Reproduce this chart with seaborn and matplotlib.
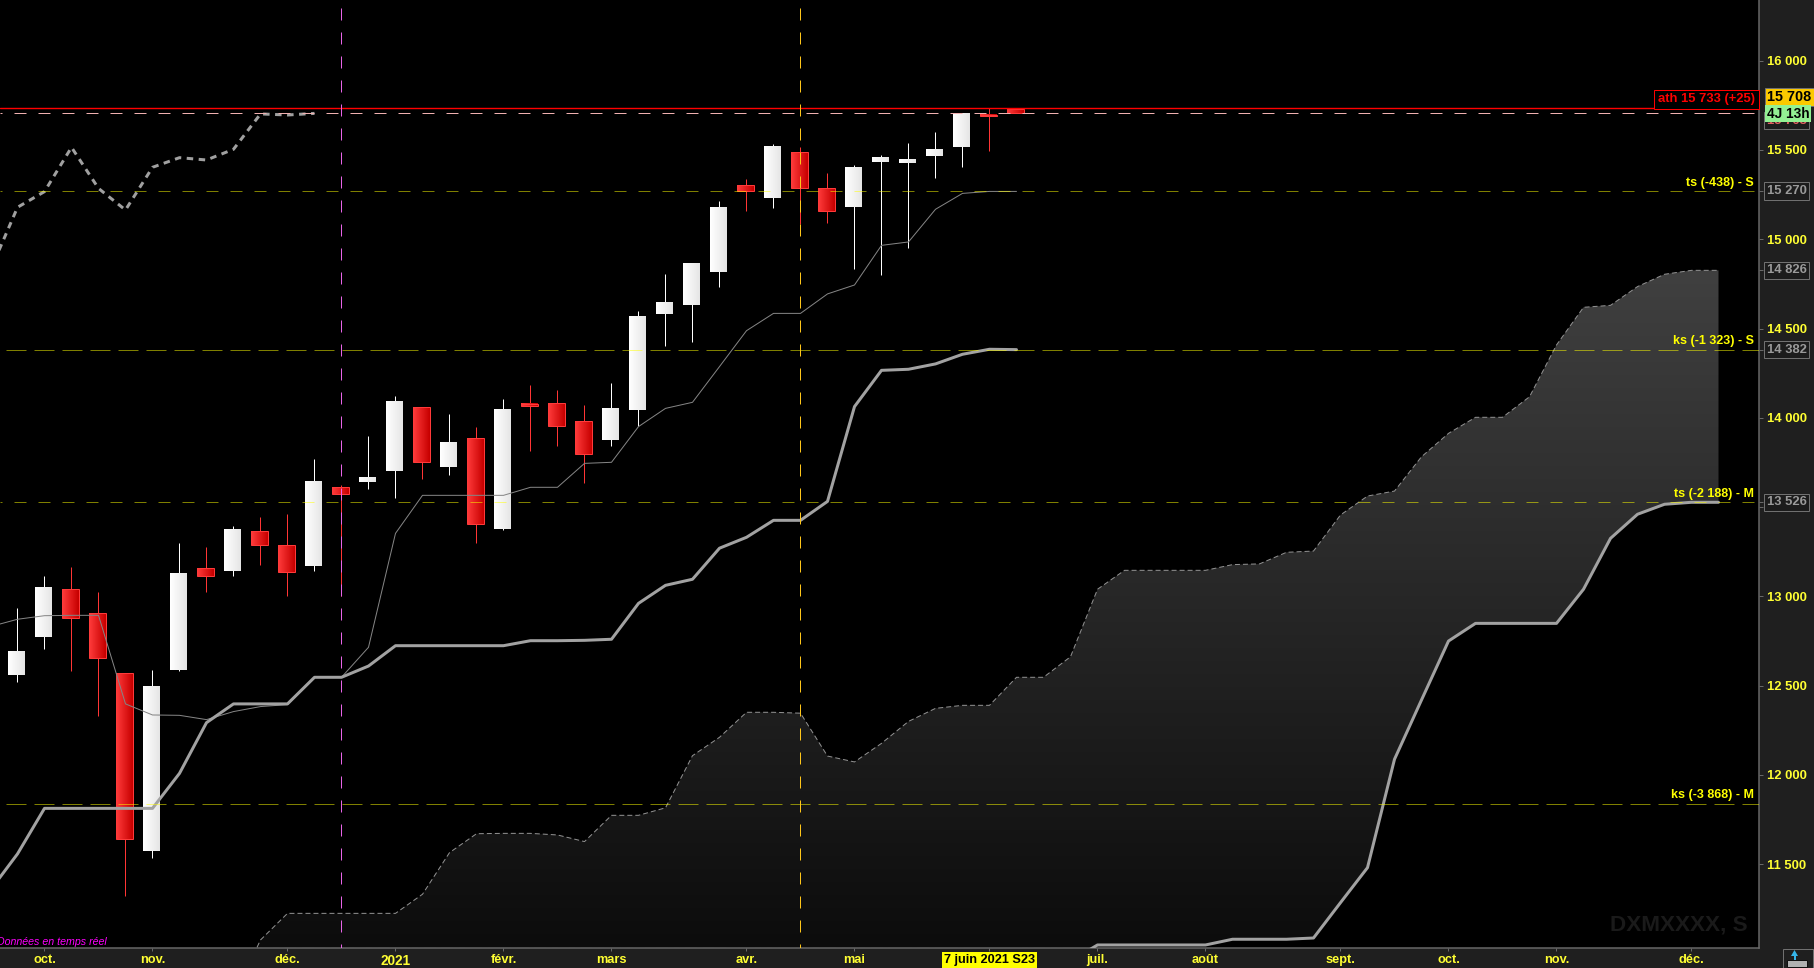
import numpy as np
import pandas as pd
import matplotlib
matplotlib.use('Agg')
import matplotlib.pyplot as plt
from matplotlib.patches import Rectangle, Polygon
import seaborn as sns

# weekly candles, first one is index 0
candle_open = [12560, 12773, 13040, 12905, 12570, 11574, 12588, 13159, 13142, 13366,
               13286, 13170, 13611, 13641, 13702, 14059, 13725, 13885, 13379, 14079,
               14081, 13980, 13876, 14044, 14582, 14632, 14817, 15302, 15231, 15487,
               15285, 15181, 15433, 15427, 15466, 15517, 15698, 15730]
candle_high = [12933, 13114, 13165, 13025, 12570, 12588, 13299, 13277, 13394, 13445,
               13462, 13770, 13624, 13898, 14122, 14059, 14022, 13947, 14106, 14184,
               14156, 14072, 14195, 14598, 14806, 14867, 15214, 15338, 15534, 15517,
               15371, 15416, 15472, 15539, 15601, 15702, 15733, 15733]
candle_low = [12521, 12706, 12582, 12330, 11322, 11537, 12582, 13025, 13114, 13176,
              13002, 13142, 13002, 13602, 13551, 13658, 13680, 13299, 13372, 13814,
              13842, 13635, 13842, 13954, 14402, 14425, 14733, 15158, 15175, 15086,
              15091, 14834, 14800, 14951, 15343, 15405, 15494, 15706]
candle_close = [12689, 13053, 12881, 12657, 11643, 12493, 13126, 13116, 13372, 13290,
                13139, 13641, 13575, 13669, 14094, 13755, 13865, 13407, 14050, 14066,
                13956, 13799, 14050, 14570, 14649, 14862, 15181, 15272, 15517, 15289,
                15160, 15405, 15461, 15444, 15500, 15702, 15692, 15708]

# lines start one week before the first candle
tenkan = [12831, 12872, 12892, 12894, 12894, 12398, 12336, 12334, 12310, 12355, 12383,
          12394, 12547, 12547, 12715, 13353, 13566, 13566, 13566, 13566, 13611, 13611,
          13745, 13751, 13951, 14053, 14087, 14287, 14488, 14585, 14585, 14694, 14744,
          14966, 14985, 15168, 15257, 15268, 15268]
kijun = [11356, 11558, 11813, 11813, 11813, 11813, 11813, 12009, 12293, 12398, 12398,
         12398, 12547, 12547, 12610, 12724, 12724, 12724, 12724, 12724, 12752, 12752,
         12754, 12760, 12961, 13062, 13096, 13270, 13331, 13426, 13426, 13532, 14063,
         14266, 14272, 14302, 14356, 14384, 14382]
chikou = [14828, 15179, 15267, 15515, 15285, 15164, 15403, 15457, 15444, 15504, 15702,
          15696, 15705]

# cloud, from week 8 to week 63
cloud_top = [10757, 11076, 11225, 11225, 11225, 11225, 11225, 11332, 11565, 11671, 11673,
             11673, 11664, 11627, 11774, 11774, 11816, 12108, 12211, 12351, 12351, 12346,
             12106, 12073, 12177, 12300, 12373, 12390, 12390, 12547, 12547, 12662, 13040,
             13146, 13146, 13146, 13146, 13178, 13182, 13247, 13254, 13456, 13562, 13590,
             13782, 13913, 14003, 14003, 14118, 14408, 14619, 14630, 14735, 14804, 14826,
             14826]
# lower edge from week 39 on, earlier weeks are below the chart
cloud_bottom = [10958, 11048, 11048, 11048, 11048, 11048, 11080, 11080, 11080, 11087, 11285,
                11481, 12088, 12420, 12750, 12849, 12849, 12849, 12849, 13040, 13325, 13460,
                13516, 13527, 13527]
below_chart = [10700] * 31

# the 13 500 label sits hidden under the 13 526 box in the original
y_ticks = [16000, 15500, 15000, 14500, 14000, 13500, 13000, 12500, 12000, 11500]
y_labels = ['16 000', '15 500', '15 000', '14 500', '14 000', '', '13 000', '12 500',
            '12 000', '11 500']
x_ticks = [1, 5, 10, 14, 18, 22, 27, 31, 36, 40, 44, 49, 53, 57, 62]
x_labels = ['oct.', 'nov.', 'déc.', '2021', 'févr.', 'mars', 'avr.', 'mai', '7 juin 2021 S23',
            'juil.', 'août', 'sept.', 'oct.', 'nov.', 'déc.']

ath_level = 15733
last_level = 15708
ts_levels = [15270, 13526]
ks_levels = [14382, 11840]
axis_boxes = [('15 270', 15270), ('14 826', 14826), ('14 382', 14382), ('13 526', 13526)]
level_labels = [('ts (-438) - S', 15270, 8), ('ks (-1 323) - S', 14382, 9),
                ('ts (-2 188) - M', 13526, 8), ('ks (-3 868) - M', 11840, 9)]
pink_week = 12
orange_week = 29

sns.set_theme(style='dark', rc={'lines.scale_dashes': False, 'axes.grid': False})
plt.rcParams['font.family'] = ['Liberation Sans', 'DejaVu Sans']

fig = plt.figure(figsize=(18.14, 9.68), dpi=100, facecolor='#1f1f1f')
ax = fig.add_axes([0, 20 / 968, 1759 / 1814, 948 / 968], facecolor='black')

PX = 0.72  # one pixel in points at dpi 100
YELLOW = '#ffff33'

# cloud with vertical gradient
cloud_weeks = np.arange(8, 64)
lower_edge = below_chart + cloud_bottom
poly = ax.fill_between(cloud_weeks, lower_edge, cloud_top, color='none', linewidth=0)
shade = np.linspace(0x40, 0x0c, 256) / 255
gradient = np.dstack([shade, shade, shade]).reshape(256, 1, 3)
im = ax.imshow(gradient, extent=(8, 63, 11031, 14826), aspect='auto', zorder=1,
               interpolation='bilinear')
im.set_clip_path(poly.get_paths()[0], transform=ax.transData)

# candles
white_grad = np.linspace([1, 1, 1], [0.9, 0.9, 0.9], 16).reshape(1, 16, 3)
red_grad = np.linspace([1, 0.23, 0.23], [0.78, 0, 0], 16).reshape(1, 16, 3)
body_half = 0.31
for i in range(len(candle_open)):
    up = candle_close[i] >= candle_open[i]
    top = max(candle_open[i], candle_close[i])
    bottom = min(candle_open[i], candle_close[i])
    ax.vlines(i, candle_low[i], candle_high[i], color='white' if up else '#ff3535',
              linewidth=1 * PX, zorder=2)
    ax.imshow(white_grad if up else red_grad, aspect='auto', zorder=3,
              extent=(i - 0.04 - body_half, i - 0.04 + body_half, bottom, top))
    if not up:
        ax.add_patch(Rectangle((i - 0.04 - body_half, bottom), 2 * body_half, top - bottom,
                               fill=False, edgecolor='#ff3a3a', linewidth=1 * PX, zorder=4))

# indicator lines
line_df = pd.DataFrame({'week': np.arange(-1, 38), 'tenkan': tenkan, 'kijun': kijun})
sns.lineplot(data=line_df, x='week', y='tenkan', ax=ax, color='#858585', linewidth=1 * PX,
             estimator=None, zorder=5)
sns.lineplot(data=line_df, x='week', y='kijun', ax=ax, color='#a2a2a2', linewidth=3 * PX,
             estimator=None, zorder=5)
sns.lineplot(x=np.arange(-1, 12), y=chikou, ax=ax, color='#a0a0a0', linewidth=3 * PX,
             estimator=None, linestyle=(0, (6.5 * PX, 5.5 * PX)), dash_capstyle='butt', zorder=5)
sns.lineplot(x=cloud_weeks, y=cloud_top, ax=ax, color='#929292', linewidth=1 * PX,
             estimator=None, linestyle=(0, (5 * PX, 3 * PX)), zorder=5)
sns.lineplot(x=np.arange(39, 64), y=cloud_bottom, ax=ax, color='#a2a2a2', linewidth=3 * PX,
             estimator=None, zorder=5)

# horizontal levels, half transparent yellow so they tint the candles
for level in ts_levels:
    ax.axhline(level, color='#ffff00', alpha=0.5, linewidth=1 * PX, zorder=6,
               linestyle=(10 * PX, (12 * PX, 12 * PX)))
for level in ks_levels:
    ax.axhline(level, color='#ffff00', alpha=0.5, linewidth=1 * PX, zorder=6,
               linestyle=(22 * PX, (20 * PX, 8 * PX)))
ax.axhline(last_level, color='#f0b0b0', linewidth=1 * PX, zorder=6,
           linestyle=(10 * PX, (12 * PX, 12 * PX)))
ax.axhline(ath_level, color='#ff0000', linewidth=1.4 * PX, zorder=6)

ax.axvline(pink_week, color='#e864e8', linewidth=1 * PX, zorder=6,
           linestyle=(8 * PX, (12 * PX, 12 * PX)))
ax.axvline(orange_week, color='#ffc61a', linewidth=1 * PX, zorder=6,
           linestyle=(8 * PX, (12 * PX, 12 * PX)))

ax.set_xlim(-0.648, 64.5)
ax.set_ylim(11031, 16340)
ax.set_xlabel('')
ax.set_ylabel('')

# axes styling
for side in ['top', 'left']:
    ax.spines[side].set_visible(False)
for side in ['bottom', 'right']:
    ax.spines[side].set_color('#686868')
    ax.spines[side].set_linewidth(1.5 * PX)
ax.yaxis.tick_right()
ax.set_yticks(y_ticks, y_labels)
ax.set_yticks([15270, 14826, 14382, 13526], minor=True)
ax.set_xticks(x_ticks, x_labels)
ax.tick_params(axis='y', which='major', left=False, right=True, length=4 * PX, width=1 * PX,
               color='#686868', pad=4 * PX, labelsize=9.4, labelcolor=YELLOW)
ax.tick_params(axis='y', which='minor', left=False, right=True, length=4 * PX, width=1 * PX,
               color='#686868')
ax.tick_params(axis='x', bottom=True, length=3 * PX, width=1 * PX, color='#686868',
               pad=2.2, labelsize=9.2, labelcolor=YELLOW)
for label in ax.get_yticklabels() + ax.get_xticklabels():
    label.set_fontweight('bold')
date_label = ax.get_xticklabels()[8]
date_label.set_color('black')
date_label.set_bbox(dict(facecolor='#ffff00', edgecolor='none', pad=1.6))
ax.get_xticklabels()[3].set_fontsize(9.8)

# text next to the levels
axis_x = ax.get_yaxis_transform()
for text, level, lift in level_labels:
    ax.annotate(text, xy=(1, level), xycoords=axis_x, xytext=(-5, lift), textcoords='offset pixels',
                ha='right', va='center', color='#ffff00', fontsize=9, fontweight='bold', zorder=8)
ax.annotate('ath 15 733 (+25)', xy=(1, ath_level), xycoords=axis_x, xytext=(-4, 9),
            textcoords='offset pixels', ha='right', va='center', color='#ff0000', fontsize=9.4,
            fontweight='bold', zorder=8,
            bbox=dict(boxstyle='square,pad=0.28', facecolor='black', edgecolor='#ff0000',
                      linewidth=1 * PX))

# boxes on the price axis
for text, level in axis_boxes:
    ax.annotate(text, xy=(1, level), xycoords=axis_x, xytext=(8, 0), textcoords='offset pixels',
                ha='left', va='center', color='#9a9a9a', fontsize=9.4, fontweight='bold',
                annotation_clip=False, zorder=8,
                bbox=dict(boxstyle='square,pad=0.2', facecolor='#1c1c1c', edgecolor='#707070',
                          linewidth=1 * PX))
ax.annotate('15 708', xy=(1, last_level), xycoords=axis_x, xytext=(8, -8), textcoords='offset pixels',
            ha='left', va='center', color='#e06060', fontsize=9.4, fontweight='bold',
            annotation_clip=False, zorder=8,
            bbox=dict(boxstyle='square,pad=0.2', facecolor='#1c1c1c', edgecolor='#707070',
                      linewidth=1 * PX))
ax.annotate('15 708', xy=(1, last_level), xycoords=axis_x, xytext=(8, 16), textcoords='offset pixels',
            ha='left', va='center', color='black', fontsize=10.4, fontweight='bold',
            annotation_clip=False, zorder=9,
            bbox=dict(boxstyle='square,pad=0.16', facecolor='#fbc900', edgecolor='#707070',
                      linewidth=1 * PX))
ax.annotate('4J 13h', xy=(1, last_level), xycoords=axis_x, xytext=(8, -1), textcoords='offset pixels',
            ha='left', va='center', color='black', fontsize=9.8, fontweight='bold',
            annotation_clip=False, zorder=10,
            bbox=dict(boxstyle='square,pad=0.12', facecolor='#93f093', edgecolor='none'))

# watermark and status text
ax.text(1748 / 1759, (948 - 925) / 948, 'DXMXXXX, S', transform=ax.transAxes,
        ha='right', va='center', color='#1a1a1a', fontsize=16.2, fontweight='bold', zorder=1.5)
ax.text(-3 / 1759, 6 / 948, 'Données en temps réel', transform=ax.transAxes, ha='left', va='center',
        color='#ff00ff', fontsize=7.7, style='italic', zorder=8)

# small keyboard button in the corner
fig.add_artist(Rectangle((1783 / 1814, 0), 30 / 1814, 19 / 968, transform=fig.transFigure,
                         facecolor='#1f1f1f', edgecolor='#707070', linewidth=1 * PX))
fig.add_artist(Polygon([(1791 / 1814, 12 / 968), (1798 / 1814, 12 / 968), (1794.5 / 1814, 18 / 968)],
                       transform=fig.transFigure, facecolor='#35b5e8', edgecolor='none'))
fig.add_artist(Rectangle((1793.5 / 1814, 8 / 968), 2 / 1814, 5 / 968, transform=fig.transFigure,
                         facecolor='#35b5e8', edgecolor='none'))
fig.add_artist(Rectangle((1787 / 1814, 1 / 968), 20 / 1814, 7 / 968, transform=fig.transFigure,
                         facecolor='#b0b0b0', edgecolor='#101010', linewidth=1 * PX))

fig.savefig('out.png', dpi=100, facecolor=fig.get_facecolor())
plt.close(fig)
